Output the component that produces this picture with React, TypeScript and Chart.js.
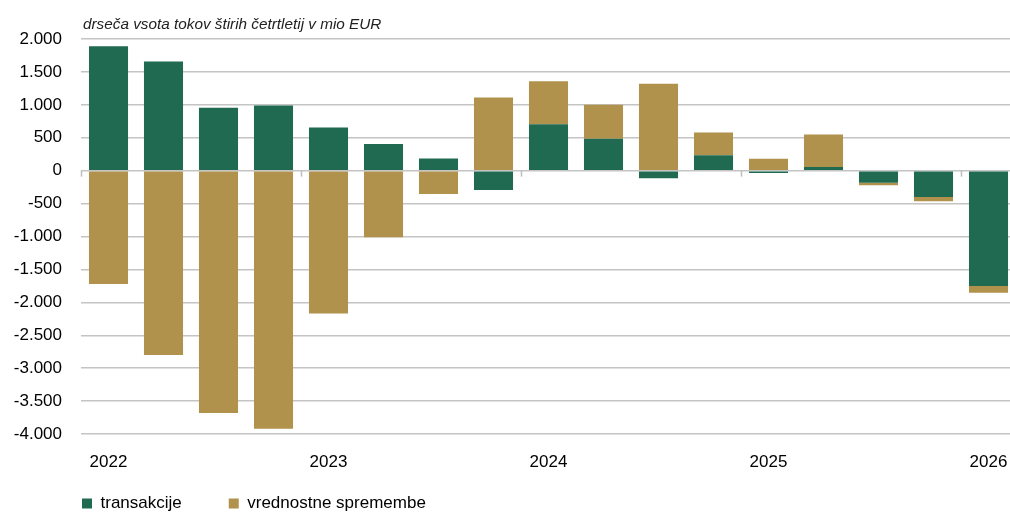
import React, { useEffect, useRef } from "react";
import { Chart, registerables } from "chart.js";

Chart.register(...registerables);

const categories = [
  "2022 Q1", "2022 Q2", "2022 Q3", "2022 Q4",
  "2023 Q1", "2023 Q2", "2023 Q3", "2023 Q4",
  "2024 Q1", "2024 Q2", "2024 Q3", "2024 Q4",
  "2025 Q1", "2025 Q2", "2025 Q3", "2025 Q4",
  "2026 Q1",
];
const xTickLabels = [
  "2022", "", "", "", "2023", "", "", "", "2024", "", "", "", "2025", "", "", "", "2026",
];
const transakcije = [1890, 1660, 955, 990, 655, 405, 185, -295, 705, 485, -115, 235, -35, 55, -185, -400, -1750];
const vrednostneSpremembe = [-1720, -2800, -3680, -3920, -2170, -1010, -355, 1110, 655, 515, 1320, 345, 180, 495, -35, -65, -105];
const seriesNames = ["transakcije", "vrednostne spremembe"];
const chartTitle = "drseča vsota tokov štirih četrtletij v mio EUR";
const yMin = -4000;
const yMax = 2000;
const yStep = 500;
const yearStartIndices = [0, 4, 8, 12, 16];

const GREEN = "#1F6A50";
const GOLD = "#B0924D";
const FONT = "'Liberation Sans', Arial, sans-serif";

function formatThousands(v: number): string {
  const sign = v < 0 ? "-" : "";
  const s = Math.abs(v).toString();
  return sign + s.replace(/\B(?=(\d{3})+(?!\d))/g, ".");
}

const titlePlugin = {
  id: "customTitle",
  afterDraw(chart: any) {
    const ctx = chart.ctx;
    ctx.save();
    ctx.font = `italic 15.3px ${FONT}`;
    ctx.fillStyle = "#222";
    ctx.textAlign = "left";
    ctx.textBaseline = "alphabetic";
    ctx.fillText(chartTitle, 83, 29);
    ctx.restore();
  },
};

const legendPlacePlugin = {
  id: "legendPlace",
  beforeDraw(chart: any) {
    const lg = chart.legend;
    if (!lg) return;
    const h = lg.height;
    lg.left = 35;
    lg.top = 448;
    lg.bottom = 448 + h;
  },
};

const yearTickPlugin = {
  id: "yearTicks",
  beforeDatasetsDraw(chart: any) {
    const xs = chart.scales.x;
    const ys = chart.scales.y;
    const ctx = chart.ctx;
    const half = (xs.getPixelForValue(1) - xs.getPixelForValue(0)) / 2;
    const y0 = ys.getPixelForValue(0);
    ctx.save();
    ctx.strokeStyle = "#bfbfbf";
    ctx.lineWidth = 1.5;
    yearStartIndices.forEach((i) => {
      const x = Math.round(xs.getPixelForValue(i) - half) + 0.5;
      ctx.beginPath();
      ctx.moveTo(x, y0);
      ctx.lineTo(x, y0 + 6);
      ctx.stroke();
    });
    ctx.restore();
  },
};

export default function App() {
  const canvasRef = useRef<HTMLCanvasElement | null>(null);

  useEffect(() => {
    document.body.style.margin = "0";
    const canvas = canvasRef.current;
    if (!canvas) return;
    const chart = new Chart(canvas, {
      type: "bar",
      data: {
        labels: categories,
        datasets: [
          {
            label: seriesNames[0],
            data: transakcije,
            backgroundColor: GREEN,
            borderWidth: 0,
            barPercentage: 0.71,
            categoryPercentage: 1,
          },
          {
            label: seriesNames[1],
            data: vrednostneSpremembe,
            backgroundColor: GOLD,
            borderWidth: 0,
            barPercentage: 0.71,
            categoryPercentage: 1,
          },
        ],
      },
      options: {
        responsive: false,
        animation: false,
        devicePixelRatio: 1,
        layout: { autoPadding: false, padding: { top: 39, left: 0, right: 0, bottom: 0 } },
        plugins: {
          title: { display: false },
          tooltip: { enabled: false },
          legend: {
            position: "bottom",
            align: "start",
            labels: {
              boxWidth: 10,
              boxHeight: 10,
              padding: 47,
              color: "#000",
              font: { family: FONT, size: 17 },
            },
          },
        },
        scales: {
          x: {
            stacked: true,
            grid: { display: false, drawTicks: true, tickLength: 15 },
            border: { display: false },
            ticks: {
              autoSkip: false,
              maxRotation: 0,
              minRotation: 0,
              padding: 3,
              color: "#000",
              font: { family: FONT, size: 17 },
              callback: (_v: any, i: number) => xTickLabels[i],
            },
            afterFit: (scale: any) => {
              scale.height = 40;
              scale.paddingLeft = 0;
              scale.paddingRight = 0;
            },
          },
          y: {
            stacked: true,
            min: yMin,
            max: yMax,
            grid: { color: "#c4c4c4", lineWidth: 1.5, drawTicks: false },
            border: { display: false },
            ticks: {
              stepSize: yStep,
              padding: 19,
              color: "#000",
              font: { family: FONT, size: 17 },
              callback: (v: any) => formatThousands(Number(v)),
            },
            afterFit: (scale: any) => {
              scale.width = 81;
            },
          },
        },
      },
      plugins: [titlePlugin, legendPlacePlugin, yearTickPlugin],
    });
    return () => chart.destroy();
  }, []);

  return (
    <div style={{ position: "fixed", left: 0, top: 0, width: 1010, height: 514, overflow: "hidden", background: "#fff" }}>
      <canvas ref={canvasRef} width={1016} height={548} style={{ display: "block", width: 1016, height: 548 }} />
    </div>
  );
}
